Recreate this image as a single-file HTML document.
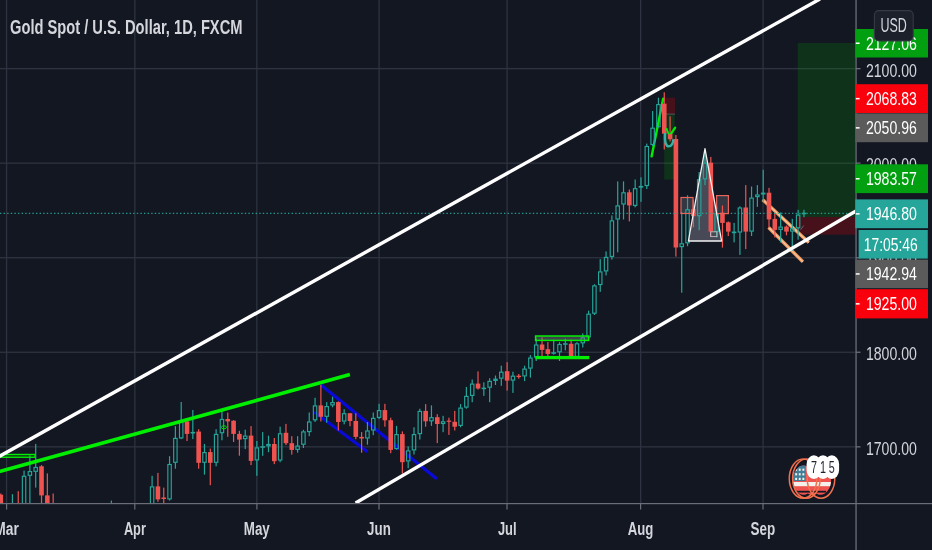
<!DOCTYPE html><html><head><meta charset="utf-8"><title>XAUUSD</title>
<style>html,body{margin:0;padding:0;background:#131722;}body{width:932px;height:550px;overflow:hidden;font-family:"Liberation Sans",sans-serif;}svg{display:block;font-family:"Liberation Sans",sans-serif;}</style></head><body>
<svg width="932" height="550" viewBox="0 0 932 550" style="will-change:transform">
<rect width="932" height="550" fill="#131722"/>
<defs><clipPath id="c"><rect x="0" y="0" width="855.5" height="503.0"/></clipPath></defs>
<g clip-path="url(#c)">
<rect x="5.9" y="0" width="1.3" height="504" fill="#2f3341"/>
<rect x="134.2" y="0" width="1.3" height="504" fill="#2f3341"/>
<rect x="256.2" y="0" width="1.3" height="504" fill="#2f3341"/>
<rect x="378.4" y="0" width="1.3" height="504" fill="#2f3341"/>
<rect x="506.4" y="0" width="1.3" height="504" fill="#2f3341"/>
<rect x="640.0" y="0" width="1.3" height="504" fill="#2f3341"/>
<rect x="762.4" y="0" width="1.3" height="504" fill="#2f3341"/>
<rect x="0" y="68.0" width="856" height="1.3" fill="#2f3341"/>
<rect x="0" y="162.5" width="856" height="1.3" fill="#2f3341"/>
<rect x="0" y="257.1" width="856" height="1.3" fill="#2f3341"/>
<rect x="0" y="351.6" width="856" height="1.3" fill="#2f3341"/>
<rect x="0" y="446.2" width="856" height="1.3" fill="#2f3341"/>
<rect x="797.7" y="43" width="58" height="174" fill="rgba(0,160,0,0.2)"/>
<rect x="797.7" y="217" width="58" height="17.6" fill="rgba(255,0,0,0.22)"/>
<rect x="664.4" y="97.7" width="10.6" height="16.4" fill="rgba(255,0,0,0.22)"/>
<rect x="664.2" y="114.1" width="10.4" height="65.4" fill="rgba(0,160,0,0.2)"/>
<line x1="666" y1="114.1" x2="675" y2="114.1" stroke="#5d606b" stroke-width="0.8"/>
<rect x="681" y="197.5" width="12" height="16" fill="rgba(150,153,165,0.25)"/>
<rect x="716.6" y="195.6" width="11.8" height="18" fill="rgba(150,153,165,0.25)"/>
<polygon points="705,148.6 688.4,241 721.6,241" fill="rgba(150,153,165,0.40)"/>
<line x1="320.4" y1="384.6" x2="436.9" y2="479" stroke="#0a0ad8" stroke-width="3.2"/>
<line x1="314.3" y1="412" x2="367.5" y2="451.8" stroke="#0a0ad8" stroke-width="3.2"/>
<line x1="762.7" y1="199.7" x2="808.8" y2="242.5" stroke="#ee965a" stroke-width="3.4"/>
<line x1="762.7" y1="199.7" x2="808.8" y2="242.5" stroke="#f8c9a6" stroke-width="1.1"/>
<line x1="768.6" y1="227.5" x2="802.9" y2="261.8" stroke="#ee965a" stroke-width="3.4"/>
<line x1="768.6" y1="227.5" x2="802.9" y2="261.8" stroke="#f8c9a6" stroke-width="1.1"/>
<line x1="800.6" y1="229.8" x2="803.7" y2="225.5" stroke="#6a6d78" stroke-width="0.9"/>
<line x1="651.6" y1="156.4" x2="663.2" y2="98.6" stroke="#00ef00" stroke-width="2.4" stroke-linecap="round"/>
<rect x="0.18" y="493.5" width="1.2" height="14.2" fill="#ef5350"/>
<rect x="-1.52" y="494.7" width="4.6" height="13.0" fill="#ef5350"/>
<rect x="11.82" y="494.2" width="1.2" height="13.2" fill="#26a69a"/>
<rect x="10.72" y="507.6" width="3.4" height="0.4" fill="none" stroke="#26a69a" stroke-width="1.15"/>
<rect x="17.64" y="491.2" width="1.2" height="16.5" fill="#ef5350"/>
<rect x="15.94" y="507.1" width="4.6" height="1.2" fill="#ef5350"/>
<rect x="23.46" y="470.6" width="1.2" height="5.5" fill="#26a69a"/>
<rect x="22.36" y="476.3" width="3.4" height="30.9" fill="none" stroke="#26a69a" stroke-width="1.15"/>
<rect x="29.28" y="455.2" width="1.2" height="16.2" fill="#26a69a"/>
<rect x="29.28" y="475.5" width="1.2" height="28.7" fill="#26a69a"/>
<rect x="28.18" y="471.6" width="3.4" height="3.7" fill="none" stroke="#26a69a" stroke-width="1.15"/>
<rect x="35.10" y="443.9" width="1.2" height="23.4" fill="#26a69a"/>
<rect x="35.10" y="471.5" width="1.2" height="16.1" fill="#26a69a"/>
<rect x="34.00" y="467.5" width="3.4" height="3.8" fill="none" stroke="#26a69a" stroke-width="1.15"/>
<rect x="40.92" y="465.1" width="1.2" height="39.1" fill="#ef5350"/>
<rect x="39.22" y="466.3" width="4.6" height="29.1" fill="#ef5350"/>
<rect x="46.74" y="473.4" width="1.2" height="34.3" fill="#ef5350"/>
<rect x="45.04" y="495.4" width="4.6" height="12.3" fill="#ef5350"/>
<rect x="52.56" y="493.5" width="1.2" height="14.2" fill="#ef5350"/>
<rect x="50.86" y="507.1" width="4.6" height="1.2" fill="#ef5350"/>
<rect x="110.76" y="500.6" width="1.2" height="6.8" fill="#26a69a"/>
<rect x="109.66" y="507.6" width="3.4" height="0.4" fill="none" stroke="#26a69a" stroke-width="1.15"/>
<rect x="151.50" y="475.8" width="1.2" height="10.9" fill="#26a69a"/>
<rect x="150.40" y="486.9" width="3.4" height="20.3" fill="none" stroke="#26a69a" stroke-width="1.15"/>
<rect x="157.32" y="472.9" width="1.2" height="28.9" fill="#ef5350"/>
<rect x="155.62" y="486.4" width="4.6" height="13.0" fill="#ef5350"/>
<rect x="163.14" y="487.6" width="1.2" height="15.4" fill="#ef5350"/>
<rect x="161.44" y="497.5" width="4.6" height="1.5" fill="#ef5350"/>
<rect x="168.96" y="456.2" width="1.2" height="8.1" fill="#26a69a"/>
<rect x="168.96" y="499.1" width="1.2" height="1.5" fill="#26a69a"/>
<rect x="167.86" y="464.5" width="3.4" height="34.4" fill="none" stroke="#26a69a" stroke-width="1.15"/>
<rect x="174.78" y="426.1" width="1.2" height="12.1" fill="#26a69a"/>
<rect x="174.78" y="462.5" width="1.2" height="6.2" fill="#26a69a"/>
<rect x="173.68" y="438.4" width="3.4" height="23.9" fill="none" stroke="#26a69a" stroke-width="1.15"/>
<rect x="180.60" y="402.0" width="1.2" height="19.7" fill="#26a69a"/>
<rect x="180.60" y="438.1" width="1.2" height="1.0" fill="#26a69a"/>
<rect x="179.50" y="421.9" width="3.4" height="16.0" fill="none" stroke="#26a69a" stroke-width="1.15"/>
<rect x="186.42" y="419.0" width="1.2" height="22.0" fill="#ef5350"/>
<rect x="184.72" y="421.4" width="4.6" height="12.5" fill="#ef5350"/>
<rect x="192.24" y="410.0" width="1.2" height="22.3" fill="#26a69a"/>
<rect x="192.24" y="432.9" width="1.2" height="6.2" fill="#26a69a"/>
<rect x="191.14" y="432.5" width="3.4" height="0.4" fill="none" stroke="#26a69a" stroke-width="1.15"/>
<rect x="198.06" y="429.2" width="1.2" height="39.5" fill="#ef5350"/>
<rect x="196.36" y="431.6" width="4.6" height="31.2" fill="#ef5350"/>
<rect x="203.88" y="443.9" width="1.2" height="8.5" fill="#26a69a"/>
<rect x="203.88" y="462.5" width="1.2" height="12.1" fill="#26a69a"/>
<rect x="202.78" y="452.6" width="3.4" height="9.7" fill="none" stroke="#26a69a" stroke-width="1.15"/>
<rect x="209.70" y="448.6" width="1.2" height="36.6" fill="#ef5350"/>
<rect x="208.00" y="452.1" width="4.6" height="10.7" fill="#ef5350"/>
<rect x="215.52" y="429.2" width="1.2" height="5.0" fill="#26a69a"/>
<rect x="215.52" y="462.5" width="1.2" height="3.8" fill="#26a69a"/>
<rect x="214.42" y="434.4" width="3.4" height="27.9" fill="none" stroke="#26a69a" stroke-width="1.15"/>
<rect x="221.34" y="410.7" width="1.2" height="8.6" fill="#26a69a"/>
<rect x="221.34" y="432.9" width="1.2" height="7.4" fill="#26a69a"/>
<rect x="220.24" y="419.5" width="3.4" height="13.2" fill="none" stroke="#26a69a" stroke-width="1.15"/>
<rect x="227.16" y="412.6" width="1.2" height="24.2" fill="#ef5350"/>
<rect x="225.46" y="419.0" width="4.6" height="2.4" fill="#ef5350"/>
<rect x="232.98" y="420.2" width="1.2" height="21.8" fill="#ef5350"/>
<rect x="231.28" y="420.7" width="4.6" height="13.2" fill="#ef5350"/>
<rect x="238.80" y="430.8" width="1.2" height="24.9" fill="#ef5350"/>
<rect x="237.10" y="433.9" width="4.6" height="5.7" fill="#ef5350"/>
<rect x="244.62" y="429.7" width="1.2" height="6.2" fill="#26a69a"/>
<rect x="244.62" y="438.8" width="1.2" height="10.3" fill="#26a69a"/>
<rect x="243.52" y="436.1" width="3.4" height="2.5" fill="none" stroke="#26a69a" stroke-width="1.15"/>
<rect x="250.44" y="426.1" width="1.2" height="39.0" fill="#ef5350"/>
<rect x="248.74" y="435.6" width="4.6" height="25.3" fill="#ef5350"/>
<rect x="256.26" y="441.0" width="1.2" height="6.7" fill="#26a69a"/>
<rect x="256.26" y="460.1" width="1.2" height="15.7" fill="#26a69a"/>
<rect x="255.16" y="447.9" width="3.4" height="12.0" fill="none" stroke="#26a69a" stroke-width="1.15"/>
<rect x="262.08" y="432.1" width="1.2" height="14.5" fill="#26a69a"/>
<rect x="262.08" y="447.2" width="1.2" height="8.6" fill="#26a69a"/>
<rect x="260.98" y="446.8" width="3.4" height="0.4" fill="none" stroke="#26a69a" stroke-width="1.15"/>
<rect x="267.90" y="435.7" width="1.2" height="8.6" fill="#26a69a"/>
<rect x="267.90" y="446.0" width="1.2" height="6.2" fill="#26a69a"/>
<rect x="266.80" y="444.5" width="3.4" height="1.3" fill="none" stroke="#26a69a" stroke-width="1.15"/>
<rect x="273.72" y="438.0" width="1.2" height="26.1" fill="#ef5350"/>
<rect x="272.02" y="444.0" width="4.6" height="17.2" fill="#ef5350"/>
<rect x="279.54" y="426.7" width="1.2" height="6.9" fill="#26a69a"/>
<rect x="279.54" y="460.2" width="1.2" height="2.0" fill="#26a69a"/>
<rect x="278.44" y="433.8" width="3.4" height="26.2" fill="none" stroke="#26a69a" stroke-width="1.15"/>
<rect x="285.36" y="423.9" width="1.2" height="21.2" fill="#ef5350"/>
<rect x="283.66" y="432.8" width="4.6" height="10.4" fill="#ef5350"/>
<rect x="291.18" y="436.2" width="1.2" height="18.4" fill="#ef5350"/>
<rect x="289.48" y="443.2" width="4.6" height="6.7" fill="#ef5350"/>
<rect x="297.00" y="436.2" width="1.2" height="9.7" fill="#26a69a"/>
<rect x="297.00" y="449.6" width="1.2" height="3.1" fill="#26a69a"/>
<rect x="295.90" y="446.1" width="3.4" height="3.3" fill="none" stroke="#26a69a" stroke-width="1.15"/>
<rect x="302.82" y="429.8" width="1.2" height="1.9" fill="#26a69a"/>
<rect x="302.82" y="444.4" width="1.2" height="3.6" fill="#26a69a"/>
<rect x="301.72" y="431.9" width="3.4" height="12.3" fill="none" stroke="#26a69a" stroke-width="1.15"/>
<rect x="308.64" y="412.5" width="1.2" height="9.3" fill="#26a69a"/>
<rect x="308.64" y="431.8" width="1.2" height="4.4" fill="#26a69a"/>
<rect x="307.54" y="422.0" width="3.4" height="9.6" fill="none" stroke="#26a69a" stroke-width="1.15"/>
<rect x="314.46" y="397.8" width="1.2" height="7.9" fill="#26a69a"/>
<rect x="314.46" y="420.0" width="1.2" height="2.0" fill="#26a69a"/>
<rect x="313.36" y="405.9" width="3.4" height="13.9" fill="none" stroke="#26a69a" stroke-width="1.15"/>
<rect x="320.28" y="384.8" width="1.2" height="36.7" fill="#ef5350"/>
<rect x="318.58" y="405.4" width="4.6" height="11.4" fill="#ef5350"/>
<rect x="326.10" y="402.1" width="1.2" height="4.3" fill="#26a69a"/>
<rect x="326.10" y="416.5" width="1.2" height="6.2" fill="#26a69a"/>
<rect x="325.00" y="406.6" width="3.4" height="9.7" fill="none" stroke="#26a69a" stroke-width="1.15"/>
<rect x="331.92" y="396.7" width="1.2" height="5.7" fill="#26a69a"/>
<rect x="331.92" y="405.1" width="1.2" height="2.2" fill="#26a69a"/>
<rect x="330.82" y="402.6" width="3.4" height="2.3" fill="none" stroke="#26a69a" stroke-width="1.15"/>
<rect x="337.74" y="401.4" width="1.2" height="29.1" fill="#ef5350"/>
<rect x="336.04" y="402.1" width="4.6" height="19.9" fill="#ef5350"/>
<rect x="343.56" y="409.2" width="1.2" height="4.3" fill="#26a69a"/>
<rect x="343.56" y="421.2" width="1.2" height="3.1" fill="#26a69a"/>
<rect x="342.46" y="413.7" width="3.4" height="7.3" fill="none" stroke="#26a69a" stroke-width="1.15"/>
<rect x="349.38" y="413.2" width="1.2" height="13.0" fill="#ef5350"/>
<rect x="347.68" y="413.2" width="4.6" height="7.8" fill="#ef5350"/>
<rect x="355.20" y="413.2" width="1.2" height="26.0" fill="#ef5350"/>
<rect x="353.50" y="421.0" width="4.6" height="15.9" fill="#ef5350"/>
<rect x="361.02" y="432.1" width="1.2" height="20.6" fill="#ef5350"/>
<rect x="359.32" y="436.9" width="4.6" height="1.6" fill="#ef5350"/>
<rect x="366.84" y="422.0" width="1.2" height="8.8" fill="#26a69a"/>
<rect x="366.84" y="438.2" width="1.2" height="6.5" fill="#26a69a"/>
<rect x="365.74" y="431.0" width="3.4" height="7.0" fill="none" stroke="#26a69a" stroke-width="1.15"/>
<rect x="372.66" y="412.5" width="1.2" height="5.7" fill="#26a69a"/>
<rect x="372.66" y="430.2" width="1.2" height="5.0" fill="#26a69a"/>
<rect x="371.56" y="418.4" width="3.4" height="11.6" fill="none" stroke="#26a69a" stroke-width="1.15"/>
<rect x="378.48" y="403.8" width="1.2" height="6.6" fill="#26a69a"/>
<rect x="378.48" y="417.6" width="1.2" height="1.5" fill="#26a69a"/>
<rect x="377.38" y="410.6" width="3.4" height="6.8" fill="none" stroke="#26a69a" stroke-width="1.15"/>
<rect x="384.30" y="403.8" width="1.2" height="22.9" fill="#ef5350"/>
<rect x="382.60" y="410.1" width="4.6" height="10.2" fill="#ef5350"/>
<rect x="390.12" y="417.7" width="1.2" height="35.5" fill="#ef5350"/>
<rect x="388.42" y="420.2" width="4.6" height="29.7" fill="#ef5350"/>
<rect x="395.94" y="425.9" width="1.2" height="8.5" fill="#26a69a"/>
<rect x="395.94" y="448.8" width="1.2" height="0.8" fill="#26a69a"/>
<rect x="394.84" y="434.6" width="3.4" height="14.0" fill="none" stroke="#26a69a" stroke-width="1.15"/>
<rect x="401.76" y="431.4" width="1.2" height="42.2" fill="#ef5350"/>
<rect x="400.06" y="434.1" width="4.6" height="28.1" fill="#ef5350"/>
<rect x="407.58" y="446.4" width="1.2" height="4.3" fill="#26a69a"/>
<rect x="407.58" y="461.1" width="1.2" height="7.1" fill="#26a69a"/>
<rect x="406.48" y="450.9" width="3.4" height="10.0" fill="none" stroke="#26a69a" stroke-width="1.15"/>
<rect x="413.40" y="427.3" width="1.2" height="7.1" fill="#26a69a"/>
<rect x="413.40" y="450.1" width="1.2" height="4.4" fill="#26a69a"/>
<rect x="412.30" y="434.6" width="3.4" height="15.3" fill="none" stroke="#26a69a" stroke-width="1.15"/>
<rect x="419.22" y="408.7" width="1.2" height="2.5" fill="#26a69a"/>
<rect x="419.22" y="433.8" width="1.2" height="5.7" fill="#26a69a"/>
<rect x="418.12" y="411.4" width="3.4" height="22.2" fill="none" stroke="#26a69a" stroke-width="1.15"/>
<rect x="425.04" y="404.1" width="1.2" height="22.6" fill="#ef5350"/>
<rect x="423.34" y="410.9" width="4.6" height="10.4" fill="#ef5350"/>
<rect x="430.86" y="405.4" width="1.2" height="12.1" fill="#26a69a"/>
<rect x="430.86" y="421.0" width="1.2" height="4.9" fill="#26a69a"/>
<rect x="429.76" y="417.7" width="3.4" height="3.1" fill="none" stroke="#26a69a" stroke-width="1.15"/>
<rect x="436.68" y="414.2" width="1.2" height="28.9" fill="#ef5350"/>
<rect x="434.98" y="417.2" width="4.6" height="6.8" fill="#ef5350"/>
<rect x="442.50" y="415.8" width="1.2" height="5.8" fill="#26a69a"/>
<rect x="442.50" y="423.7" width="1.2" height="8.5" fill="#26a69a"/>
<rect x="441.40" y="421.8" width="3.4" height="1.7" fill="none" stroke="#26a69a" stroke-width="1.15"/>
<rect x="448.32" y="417.7" width="1.2" height="17.2" fill="#ef5350"/>
<rect x="446.62" y="420.6" width="4.6" height="1.2" fill="#ef5350"/>
<rect x="454.14" y="410.9" width="1.2" height="19.6" fill="#ef5350"/>
<rect x="452.44" y="421.8" width="4.6" height="4.9" fill="#ef5350"/>
<rect x="459.96" y="404.1" width="1.2" height="3.8" fill="#26a69a"/>
<rect x="459.96" y="425.6" width="1.2" height="1.7" fill="#26a69a"/>
<rect x="458.86" y="408.1" width="3.4" height="17.3" fill="none" stroke="#26a69a" stroke-width="1.15"/>
<rect x="465.78" y="386.9" width="1.2" height="9.3" fill="#26a69a"/>
<rect x="465.78" y="407.3" width="1.2" height="1.4" fill="#26a69a"/>
<rect x="464.68" y="396.4" width="3.4" height="10.7" fill="none" stroke="#26a69a" stroke-width="1.15"/>
<rect x="471.60" y="379.5" width="1.2" height="4.4" fill="#26a69a"/>
<rect x="471.60" y="395.6" width="1.2" height="6.6" fill="#26a69a"/>
<rect x="470.50" y="384.1" width="3.4" height="11.3" fill="none" stroke="#26a69a" stroke-width="1.15"/>
<rect x="477.42" y="371.4" width="1.2" height="18.2" fill="#ef5350"/>
<rect x="475.72" y="383.6" width="4.6" height="4.9" fill="#ef5350"/>
<rect x="483.24" y="382.3" width="1.2" height="5.7" fill="#26a69a"/>
<rect x="483.24" y="388.8" width="1.2" height="7.1" fill="#26a69a"/>
<rect x="482.14" y="388.2" width="3.4" height="0.4" fill="none" stroke="#26a69a" stroke-width="1.15"/>
<rect x="489.06" y="378.2" width="1.2" height="3.0" fill="#26a69a"/>
<rect x="489.06" y="387.4" width="1.2" height="14.8" fill="#26a69a"/>
<rect x="487.96" y="381.4" width="3.4" height="5.8" fill="none" stroke="#26a69a" stroke-width="1.15"/>
<rect x="494.88" y="375.5" width="1.2" height="3.5" fill="#26a69a"/>
<rect x="494.88" y="380.6" width="1.2" height="4.4" fill="#26a69a"/>
<rect x="493.78" y="379.2" width="3.4" height="1.2" fill="none" stroke="#26a69a" stroke-width="1.15"/>
<rect x="500.70" y="365.7" width="1.2" height="6.3" fill="#26a69a"/>
<rect x="500.70" y="378.4" width="1.2" height="7.4" fill="#26a69a"/>
<rect x="499.60" y="372.2" width="3.4" height="6.0" fill="none" stroke="#26a69a" stroke-width="1.15"/>
<rect x="506.52" y="362.2" width="1.2" height="28.4" fill="#ef5350"/>
<rect x="504.82" y="371.2" width="4.6" height="9.4" fill="#ef5350"/>
<rect x="512.34" y="371.7" width="1.2" height="4.3" fill="#26a69a"/>
<rect x="512.34" y="380.3" width="1.2" height="12.6" fill="#26a69a"/>
<rect x="511.24" y="376.2" width="3.4" height="3.9" fill="none" stroke="#26a69a" stroke-width="1.15"/>
<rect x="518.16" y="374.0" width="1.2" height="4.7" fill="#ef5350"/>
<rect x="516.46" y="375.7" width="4.6" height="1.4" fill="#ef5350"/>
<rect x="523.98" y="365.7" width="1.2" height="3.2" fill="#26a69a"/>
<rect x="523.98" y="376.1" width="1.2" height="5.0" fill="#26a69a"/>
<rect x="522.88" y="369.1" width="3.4" height="6.8" fill="none" stroke="#26a69a" stroke-width="1.15"/>
<rect x="529.80" y="355.1" width="1.2" height="2.7" fill="#26a69a"/>
<rect x="529.80" y="368.3" width="1.2" height="9.3" fill="#26a69a"/>
<rect x="528.70" y="358.0" width="3.4" height="10.1" fill="none" stroke="#26a69a" stroke-width="1.15"/>
<rect x="535.62" y="338.6" width="1.2" height="6.2" fill="#26a69a"/>
<rect x="535.62" y="357.2" width="1.2" height="3.8" fill="#26a69a"/>
<rect x="534.52" y="345.0" width="3.4" height="12.0" fill="none" stroke="#26a69a" stroke-width="1.15"/>
<rect x="541.44" y="337.4" width="1.2" height="20.1" fill="#ef5350"/>
<rect x="539.74" y="344.5" width="4.6" height="5.4" fill="#ef5350"/>
<rect x="547.26" y="342.1" width="1.2" height="15.8" fill="#ef5350"/>
<rect x="545.56" y="349.2" width="4.6" height="4.7" fill="#ef5350"/>
<rect x="553.08" y="339.7" width="1.2" height="12.9" fill="#26a69a"/>
<rect x="553.08" y="353.4" width="1.2" height="1.2" fill="#26a69a"/>
<rect x="551.98" y="352.8" width="3.4" height="0.4" fill="none" stroke="#26a69a" stroke-width="1.15"/>
<rect x="558.90" y="342.1" width="1.2" height="2.2" fill="#26a69a"/>
<rect x="558.90" y="352.0" width="1.2" height="9.0" fill="#26a69a"/>
<rect x="557.80" y="344.5" width="3.4" height="7.3" fill="none" stroke="#26a69a" stroke-width="1.15"/>
<rect x="564.72" y="338.6" width="1.2" height="5.0" fill="#26a69a"/>
<rect x="564.72" y="344.2" width="1.2" height="6.2" fill="#26a69a"/>
<rect x="563.62" y="343.8" width="3.4" height="0.4" fill="none" stroke="#26a69a" stroke-width="1.15"/>
<rect x="570.54" y="339.7" width="1.2" height="17.8" fill="#ef5350"/>
<rect x="568.84" y="343.8" width="4.6" height="13.2" fill="#ef5350"/>
<rect x="576.36" y="342.1" width="1.2" height="1.5" fill="#26a69a"/>
<rect x="576.36" y="356.7" width="1.2" height="0.8" fill="#26a69a"/>
<rect x="575.26" y="343.8" width="3.4" height="12.7" fill="none" stroke="#26a69a" stroke-width="1.15"/>
<rect x="582.18" y="333.4" width="1.2" height="4.3" fill="#26a69a"/>
<rect x="582.18" y="343.0" width="1.2" height="4.5" fill="#26a69a"/>
<rect x="581.08" y="337.9" width="3.4" height="4.9" fill="none" stroke="#26a69a" stroke-width="1.15"/>
<rect x="588.00" y="310.7" width="1.2" height="3.3" fill="#26a69a"/>
<rect x="588.00" y="337.1" width="1.2" height="1.5" fill="#26a69a"/>
<rect x="586.90" y="314.2" width="3.4" height="22.7" fill="none" stroke="#26a69a" stroke-width="1.15"/>
<rect x="593.82" y="284.2" width="1.2" height="1.5" fill="#26a69a"/>
<rect x="593.82" y="313.4" width="1.2" height="1.6" fill="#26a69a"/>
<rect x="592.72" y="285.9" width="3.4" height="27.3" fill="none" stroke="#26a69a" stroke-width="1.15"/>
<rect x="599.64" y="259.1" width="1.2" height="12.6" fill="#26a69a"/>
<rect x="599.64" y="284.7" width="1.2" height="7.1" fill="#26a69a"/>
<rect x="598.54" y="271.9" width="3.4" height="12.6" fill="none" stroke="#26a69a" stroke-width="1.15"/>
<rect x="605.46" y="251.4" width="1.2" height="5.8" fill="#26a69a"/>
<rect x="605.46" y="271.1" width="1.2" height="4.3" fill="#26a69a"/>
<rect x="604.36" y="257.4" width="3.4" height="13.5" fill="none" stroke="#26a69a" stroke-width="1.15"/>
<rect x="611.28" y="215.4" width="1.2" height="5.3" fill="#26a69a"/>
<rect x="611.28" y="256.6" width="1.2" height="3.0" fill="#26a69a"/>
<rect x="610.18" y="220.9" width="3.4" height="35.5" fill="none" stroke="#26a69a" stroke-width="1.15"/>
<rect x="617.10" y="181.4" width="1.2" height="24.3" fill="#26a69a"/>
<rect x="617.10" y="219.2" width="1.2" height="33.1" fill="#26a69a"/>
<rect x="616.00" y="205.9" width="3.4" height="13.1" fill="none" stroke="#26a69a" stroke-width="1.15"/>
<rect x="622.92" y="181.4" width="1.2" height="11.2" fill="#26a69a"/>
<rect x="622.92" y="204.2" width="1.2" height="15.3" fill="#26a69a"/>
<rect x="621.82" y="192.8" width="3.4" height="11.2" fill="none" stroke="#26a69a" stroke-width="1.15"/>
<rect x="628.74" y="189.5" width="1.2" height="31.9" fill="#ef5350"/>
<rect x="627.04" y="192.3" width="4.6" height="13.1" fill="#ef5350"/>
<rect x="634.56" y="179.5" width="1.2" height="9.0" fill="#26a69a"/>
<rect x="634.56" y="205.6" width="1.2" height="1.7" fill="#26a69a"/>
<rect x="633.46" y="188.7" width="3.4" height="16.7" fill="none" stroke="#26a69a" stroke-width="1.15"/>
<rect x="640.38" y="177.3" width="1.2" height="9.0" fill="#26a69a"/>
<rect x="640.38" y="187.3" width="1.2" height="14.5" fill="#26a69a"/>
<rect x="639.28" y="186.5" width="3.4" height="0.6" fill="none" stroke="#26a69a" stroke-width="1.15"/>
<rect x="646.20" y="143.6" width="1.2" height="2.7" fill="#26a69a"/>
<rect x="646.20" y="185.7" width="1.2" height="3.3" fill="#26a69a"/>
<rect x="645.10" y="146.5" width="3.4" height="39.0" fill="none" stroke="#26a69a" stroke-width="1.15"/>
<rect x="652.02" y="111.0" width="1.2" height="17.0" fill="#26a69a"/>
<rect x="652.02" y="144.7" width="1.2" height="1.2" fill="#26a69a"/>
<rect x="650.92" y="128.2" width="3.4" height="16.3" fill="none" stroke="#26a69a" stroke-width="1.15"/>
<rect x="657.84" y="97.7" width="1.2" height="6.7" fill="#26a69a"/>
<rect x="657.84" y="126.9" width="1.2" height="0.8" fill="#26a69a"/>
<rect x="656.74" y="104.6" width="3.4" height="22.1" fill="none" stroke="#26a69a" stroke-width="1.15"/>
<rect x="663.66" y="92.3" width="1.2" height="57.2" fill="#ef5350"/>
<rect x="661.96" y="103.7" width="4.6" height="30.0" fill="#ef5350"/>
<rect x="669.48" y="116.3" width="1.2" height="25.1" fill="#ef5350"/>
<rect x="667.78" y="133.2" width="4.6" height="6.0" fill="#ef5350"/>
<rect x="675.30" y="135.0" width="1.2" height="121.6" fill="#ef5350"/>
<rect x="673.60" y="139.0" width="4.6" height="108.5" fill="#ef5350"/>
<rect x="681.12" y="212.1" width="1.2" height="31.5" fill="#26a69a"/>
<rect x="681.12" y="246.8" width="1.2" height="45.9" fill="#26a69a"/>
<rect x="680.02" y="243.8" width="3.4" height="2.8" fill="none" stroke="#26a69a" stroke-width="1.15"/>
<rect x="686.94" y="195.3" width="1.2" height="14.2" fill="#26a69a"/>
<rect x="686.94" y="243.0" width="1.2" height="3.2" fill="#26a69a"/>
<rect x="685.84" y="209.7" width="3.4" height="33.1" fill="none" stroke="#26a69a" stroke-width="1.15"/>
<rect x="692.76" y="199.6" width="1.2" height="27.7" fill="#ef5350"/>
<rect x="691.06" y="209.2" width="4.6" height="7.0" fill="#ef5350"/>
<rect x="698.58" y="172.0" width="1.2" height="7.6" fill="#26a69a"/>
<rect x="698.58" y="215.9" width="1.2" height="14.3" fill="#26a69a"/>
<rect x="697.48" y="179.8" width="3.4" height="35.9" fill="none" stroke="#26a69a" stroke-width="1.15"/>
<rect x="704.40" y="150.2" width="1.2" height="12.8" fill="#26a69a"/>
<rect x="704.40" y="179.0" width="1.2" height="6.1" fill="#26a69a"/>
<rect x="703.30" y="163.2" width="3.4" height="15.6" fill="none" stroke="#26a69a" stroke-width="1.15"/>
<rect x="710.22" y="156.9" width="1.2" height="79.1" fill="#ef5350"/>
<rect x="708.52" y="162.7" width="4.6" height="68.9" fill="#ef5350"/>
<rect x="716.04" y="206.3" width="1.2" height="7.3" fill="#26a69a"/>
<rect x="716.04" y="231.6" width="1.2" height="5.9" fill="#26a69a"/>
<rect x="714.94" y="213.8" width="3.4" height="17.6" fill="none" stroke="#26a69a" stroke-width="1.15"/>
<rect x="721.86" y="205.5" width="1.2" height="42.1" fill="#ef5350"/>
<rect x="720.16" y="212.7" width="4.6" height="10.2" fill="#ef5350"/>
<rect x="727.68" y="221.5" width="1.2" height="14.5" fill="#ef5350"/>
<rect x="725.98" y="222.3" width="4.6" height="9.3" fill="#ef5350"/>
<rect x="733.50" y="222.9" width="1.2" height="9.0" fill="#26a69a"/>
<rect x="733.50" y="232.8" width="1.2" height="9.6" fill="#26a69a"/>
<rect x="732.40" y="232.1" width="3.4" height="0.5" fill="none" stroke="#26a69a" stroke-width="1.15"/>
<rect x="739.32" y="206.3" width="1.2" height="1.5" fill="#26a69a"/>
<rect x="739.32" y="232.2" width="1.2" height="22.7" fill="#26a69a"/>
<rect x="738.22" y="208.0" width="3.4" height="24.0" fill="none" stroke="#26a69a" stroke-width="1.15"/>
<rect x="745.14" y="185.1" width="1.2" height="64.0" fill="#ef5350"/>
<rect x="743.44" y="207.5" width="4.6" height="24.1" fill="#ef5350"/>
<rect x="750.96" y="186.5" width="1.2" height="11.4" fill="#26a69a"/>
<rect x="750.96" y="231.3" width="1.2" height="4.7" fill="#26a69a"/>
<rect x="749.86" y="198.1" width="3.4" height="33.0" fill="none" stroke="#26a69a" stroke-width="1.15"/>
<rect x="756.78" y="185.1" width="1.2" height="9.7" fill="#26a69a"/>
<rect x="756.78" y="196.8" width="1.2" height="10.1" fill="#26a69a"/>
<rect x="755.68" y="195.0" width="3.4" height="1.6" fill="none" stroke="#26a69a" stroke-width="1.15"/>
<rect x="762.60" y="169.8" width="1.2" height="23.2" fill="#26a69a"/>
<rect x="762.60" y="194.2" width="1.2" height="7.3" fill="#26a69a"/>
<rect x="761.50" y="193.2" width="3.4" height="0.8" fill="none" stroke="#26a69a" stroke-width="1.15"/>
<rect x="768.42" y="187.9" width="1.2" height="39.8" fill="#ef5350"/>
<rect x="766.72" y="192.7" width="4.6" height="26.7" fill="#ef5350"/>
<rect x="774.24" y="213.5" width="1.2" height="24.0" fill="#ef5350"/>
<rect x="772.54" y="218.9" width="4.6" height="11.0" fill="#ef5350"/>
<rect x="780.06" y="212.4" width="1.2" height="14.5" fill="#26a69a"/>
<rect x="780.06" y="229.6" width="1.2" height="12.9" fill="#26a69a"/>
<rect x="778.96" y="227.1" width="3.4" height="2.3" fill="none" stroke="#26a69a" stroke-width="1.15"/>
<rect x="785.88" y="225.5" width="1.2" height="9.8" fill="#ef5350"/>
<rect x="784.18" y="226.6" width="4.6" height="5.0" fill="#ef5350"/>
<rect x="791.70" y="218.9" width="1.2" height="9.7" fill="#26a69a"/>
<rect x="791.70" y="231.3" width="1.2" height="19.3" fill="#26a69a"/>
<rect x="790.60" y="228.8" width="3.4" height="2.3" fill="none" stroke="#26a69a" stroke-width="1.15"/>
<rect x="797.52" y="209.8" width="1.2" height="5.1" fill="#26a69a"/>
<rect x="797.52" y="228.0" width="1.2" height="11.7" fill="#26a69a"/>
<rect x="796.42" y="215.1" width="3.4" height="12.7" fill="none" stroke="#26a69a" stroke-width="1.15"/>
<rect x="803.34" y="209.8" width="1.2" height="3.3" fill="#26a69a"/>
<rect x="803.34" y="213.7" width="1.2" height="3.5" fill="#26a69a"/>
<rect x="802.24" y="213.3" width="3.4" height="0.4" fill="none" stroke="#26a69a" stroke-width="1.15"/>
<line x1="0" y1="213.3" x2="856" y2="213.3" stroke="#26a69a" stroke-width="1.2" stroke-dasharray="1.4 2.2" opacity="0.9"/>
<rect x="681" y="197.5" width="12" height="16" fill="none" stroke="#e8645a" stroke-width="1.2"/>
<rect x="716.6" y="195.6" width="11.8" height="18" fill="none" stroke="#e8645a" stroke-width="1.2"/>
<polygon points="705,148.6 688.4,241 721.6,241" fill="none" stroke="#f2f2f2" stroke-width="1.3" stroke-linejoin="round"/>
<rect x="710.6" y="231.8" width="6.4" height="4.8" fill="none" stroke="#c9b8bc" stroke-width="0.9"/>
<rect x="535.6" y="336" width="53" height="4.4" fill="rgba(120,123,134,0.45)" stroke="#00f000" stroke-width="1.5"/>
<rect x="536" y="356.6" width="52.6" height="2" fill="#00f000" stroke="#00f000" stroke-width="1.3"/>
<rect x="-5" y="454.4" width="40" height="2.9" fill="rgba(0,200,0,0.35)" stroke="#00f000" stroke-width="1.2"/>
<ellipse cx="223.9" cy="427.3" rx="2.6" ry="1.5" fill="none" stroke="#00e000" stroke-width="1"/>
<line x1="-2" y1="457.1" x2="820" y2="-1" stroke="#ffffff" stroke-width="3.4"/>
<line x1="355.6" y1="503" x2="858" y2="209.8" stroke="#ffffff" stroke-width="3.4"/>
<line x1="-2" y1="471.9" x2="349.9" y2="374.6" stroke="#00ef00" stroke-width="3.6"/>
<line x1="671.2" y1="133.4" x2="675.2" y2="127.6" stroke="#00ef00" stroke-width="2.2" stroke-linecap="round"/>
<line x1="666.6" y1="128.8" x2="668.4" y2="133.4" stroke="#00ef00" stroke-width="1.8" stroke-linecap="round"/>
<path d="M665.2 133 C664.4 142 666 146.4 668.8 146.4 C671.6 146.4 673.4 143 673.2 139.2" fill="none" stroke="#35b3a8" stroke-width="2.4"/>
</g>
<rect x="0" y="503" width="932" height="1.2" fill="#6b6e78"/>
<rect x="855.4" y="0" width="1.3" height="550" fill="#6b6e78"/>
<rect x="6.0" y="504" width="1.2" height="5.5" fill="#6b6e78"/>
<rect x="134.2" y="504" width="1.2" height="5.5" fill="#6b6e78"/>
<rect x="256.3" y="504" width="1.2" height="5.5" fill="#6b6e78"/>
<rect x="378.4" y="504" width="1.2" height="5.5" fill="#6b6e78"/>
<rect x="506.4" y="504" width="1.2" height="5.5" fill="#6b6e78"/>
<rect x="640.0" y="504" width="1.2" height="5.5" fill="#6b6e78"/>
<rect x="762.4" y="504" width="1.2" height="5.5" fill="#6b6e78"/>
<text x="-5.7" y="535.2" font-size="18" font-weight="bold" fill="#d4d6dc" text-anchor="start" textLength="24.5" lengthAdjust="spacingAndGlyphs">Mar</text>
<text x="123.9" y="535.2" font-size="18" font-weight="bold" fill="#d4d6dc" text-anchor="start" textLength="22.0" lengthAdjust="spacingAndGlyphs">Apr</text>
<text x="243.8" y="535.2" font-size="18" font-weight="bold" fill="#d4d6dc" text-anchor="start" textLength="26.0" lengthAdjust="spacingAndGlyphs">May</text>
<text x="367.1" y="535.2" font-size="18" font-weight="bold" fill="#d4d6dc" text-anchor="start" textLength="23.7" lengthAdjust="spacingAndGlyphs">Jun</text>
<text x="497.9" y="535.2" font-size="18" font-weight="bold" fill="#d4d6dc" text-anchor="start" textLength="18.7" lengthAdjust="spacingAndGlyphs">Jul</text>
<text x="627.8" y="535.2" font-size="18" font-weight="bold" fill="#d4d6dc" text-anchor="start" textLength="25.6" lengthAdjust="spacingAndGlyphs">Aug</text>
<text x="750.6" y="535.2" font-size="18" font-weight="bold" fill="#d4d6dc" text-anchor="start" textLength="24.7" lengthAdjust="spacingAndGlyphs">Sep</text>
<rect x="856" y="68.0" width="4.5" height="1.3" fill="#6b6e78"/>
<text x="865.9" y="76.9" font-size="17.8" font-weight="normal" fill="#d4d6dc" text-anchor="start" textLength="51.0" lengthAdjust="spacingAndGlyphs">2100.00</text>
<rect x="856" y="162.5" width="4.5" height="1.3" fill="#6b6e78"/>
<text x="865.9" y="171.4" font-size="17.8" font-weight="normal" fill="#d4d6dc" text-anchor="start" textLength="51.0" lengthAdjust="spacingAndGlyphs">2000.00</text>
<rect x="856" y="257.1" width="4.5" height="1.3" fill="#6b6e78"/>
<text x="865.9" y="265.9" font-size="17.8" font-weight="normal" fill="#d4d6dc" text-anchor="start" textLength="51.0" lengthAdjust="spacingAndGlyphs">1900.00</text>
<rect x="856" y="351.6" width="4.5" height="1.3" fill="#6b6e78"/>
<text x="865.9" y="360.4" font-size="17.8" font-weight="normal" fill="#d4d6dc" text-anchor="start" textLength="51.0" lengthAdjust="spacingAndGlyphs">1800.00</text>
<rect x="856" y="446.2" width="4.5" height="1.3" fill="#6b6e78"/>
<text x="865.9" y="455.0" font-size="17.8" font-weight="normal" fill="#d4d6dc" text-anchor="start" textLength="51.0" lengthAdjust="spacingAndGlyphs">1700.00</text>
<rect x="855.3" y="29.0" width="72.7" height="28.5" fill="#029f10"/>
<rect x="855.8" y="42.5" width="3.8" height="1.5" fill="#ffffff"/>
<text x="865.9" y="49.5" font-size="17.8" font-weight="normal" fill="#ffffff" text-anchor="start" textLength="51.0" lengthAdjust="spacingAndGlyphs">2127.06</text>
<rect x="855.3" y="84.2" width="72.7" height="28.8" fill="#f9000d"/>
<rect x="855.8" y="97.9" width="3.8" height="1.5" fill="#ffffff"/>
<text x="865.9" y="104.9" font-size="17.8" font-weight="normal" fill="#ffffff" text-anchor="start" textLength="51.0" lengthAdjust="spacingAndGlyphs">2068.83</text>
<rect x="855.3" y="113.4" width="72.7" height="28.8" fill="#5b5b5b"/>
<rect x="855.8" y="127.1" width="3.8" height="1.5" fill="#ffffff"/>
<text x="865.9" y="134.1" font-size="17.8" font-weight="normal" fill="#ffffff" text-anchor="start" textLength="51.0" lengthAdjust="spacingAndGlyphs">2050.96</text>
<rect x="855.3" y="164.3" width="72.7" height="28.8" fill="#029f10"/>
<rect x="855.8" y="178.0" width="3.8" height="1.5" fill="#ffffff"/>
<text x="865.9" y="185.0" font-size="17.8" font-weight="normal" fill="#ffffff" text-anchor="start" textLength="51.0" lengthAdjust="spacingAndGlyphs">1983.57</text>
<rect x="855.3" y="199.4" width="72.7" height="28.8" fill="#26a69a"/>
<rect x="855.8" y="213.1" width="3.8" height="1.5" fill="#ffffff"/>
<text x="865.9" y="220.1" font-size="17.8" font-weight="normal" fill="#ffffff" text-anchor="start" textLength="51.0" lengthAdjust="spacingAndGlyphs">1946.80</text>
<rect x="858.6" y="230" width="69.2" height="28.6" fill="#26a69a"/>
<text x="863.8" y="250.6" font-size="17.8" font-weight="normal" fill="#ffffff" text-anchor="start" textLength="54.0" lengthAdjust="spacingAndGlyphs">17:05:46</text>
<rect x="855.3" y="259.6" width="72.7" height="28.6" fill="#5b5b5b"/>
<rect x="855.8" y="273.2" width="3.8" height="1.5" fill="#ffffff"/>
<text x="865.9" y="280.2" font-size="17.8" font-weight="normal" fill="#ffffff" text-anchor="start" textLength="51.0" lengthAdjust="spacingAndGlyphs">1942.94</text>
<rect x="855.3" y="289.2" width="72.7" height="29.2" fill="#f9000d"/>
<rect x="855.8" y="303.1" width="3.8" height="1.5" fill="#ffffff"/>
<text x="865.9" y="310.1" font-size="17.8" font-weight="normal" fill="#ffffff" text-anchor="start" textLength="51.0" lengthAdjust="spacingAndGlyphs">1925.00</text>
<rect x="874.4" y="10.6" width="38.8" height="30.4" rx="4.5" fill="#1c202b" stroke="#363a46" stroke-width="1.1"/>
<text x="880.4" y="31.9" font-size="19.6" font-weight="normal" fill="#d4d6dc" text-anchor="start" textLength="26.4" lengthAdjust="spacingAndGlyphs">USD</text>
<text x="10.0" y="33.6" font-size="20" font-weight="bold" fill="#d4d6dc" text-anchor="start" textLength="232.5" lengthAdjust="spacingAndGlyphs">Gold Spot / U.S. Dollar, 1D, FXCM</text>
<g>
<clipPath id="f1"><ellipse cx="803.6" cy="480.2" rx="10.6" ry="14.6"/><ellipse cx="812" cy="480.2" rx="10.6" ry="14.6"/><ellipse cx="820.4" cy="480.2" rx="10.6" ry="14.6"/></clipPath>
<g clip-path="url(#f1)"><rect x="790" y="464" width="44" height="32" fill="#ef5350"/>
<rect x="790" y="482" width="44" height="4.2" fill="#f4f1ec"/><rect x="796" y="490.8" width="30" height="1.8" fill="#131722"/>
<rect x="792" y="464" width="13.6" height="17" fill="#3f7d98"/>
<rect x="795.2" y="468.6" width="1.9" height="2.2" fill="#f4f1ec"/>
<rect x="798.8" y="468.6" width="1.9" height="2.2" fill="#f4f1ec"/>
<rect x="802.4" y="468.6" width="1.9" height="2.2" fill="#f4f1ec"/>
<rect x="795.2" y="473.2" width="1.9" height="2.2" fill="#f4f1ec"/>
<rect x="798.8" y="473.2" width="1.9" height="2.2" fill="#f4f1ec"/>
<rect x="802.4" y="473.2" width="1.9" height="2.2" fill="#f4f1ec"/>
<rect x="795.2" y="477.8" width="1.9" height="2.2" fill="#f4f1ec"/>
<rect x="798.8" y="477.8" width="1.9" height="2.2" fill="#f4f1ec"/>
<rect x="802.4" y="477.8" width="1.9" height="2.2" fill="#f4f1ec"/>
</g>
<ellipse cx="803.1" cy="478.6" rx="13.8" ry="19.6" fill="none" stroke="#f0704e" stroke-width="1.5"/>
<ellipse cx="806.4" cy="478.6" rx="13.8" ry="19.6" fill="none" stroke="#f0704e" stroke-width="1.5"/>
<ellipse cx="821.0" cy="478.6" rx="13.8" ry="19.6" fill="none" stroke="#f0704e" stroke-width="1.5"/>
<rect x="806.6" y="455.3" width="14.6" height="23.6" rx="7.3" ry="9" fill="#ffffff"/>
<rect x="815.7" y="455.3" width="14.6" height="23.6" rx="7.3" ry="9" fill="#ffffff"/>
<rect x="824.5" y="455.3" width="14.6" height="23.6" rx="7.3" ry="9" fill="#ffffff"/>
<text x="810.9" y="472.8" font-size="15.8" fill="#1e222d" textLength="6" lengthAdjust="spacingAndGlyphs">7</text>
<text x="820.0" y="472.8" font-size="15.8" fill="#1e222d" textLength="6" lengthAdjust="spacingAndGlyphs">1</text>
<text x="828.8" y="472.8" font-size="15.8" fill="#1e222d" textLength="6" lengthAdjust="spacingAndGlyphs">5</text>
</g>
</svg></body></html>
